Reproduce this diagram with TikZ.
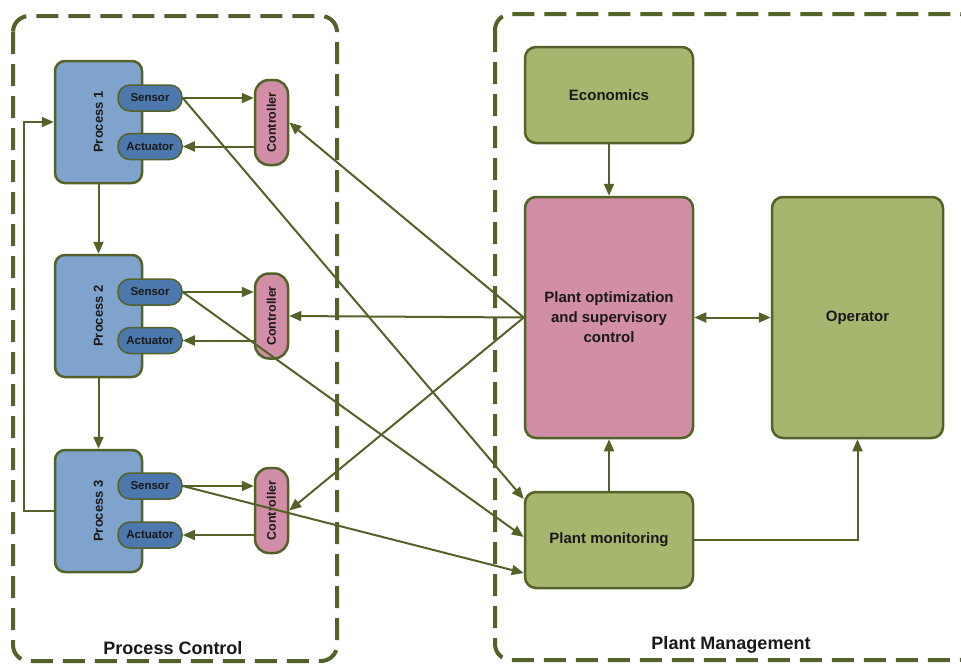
\documentclass[tikz,border=0pt]{standalone}
\usepackage{fontspec}
\setmainfont{Liberation Sans}
\usepackage{tikz}
\usepackage{xcolor}
\usetikzlibrary{arrows.meta}
\definecolor{edge}{RGB}{82,98,40}
\definecolor{procblue}{RGB}{128,163,206}
\definecolor{sensblue}{RGB}{76,120,174}
\definecolor{ctrlpink}{RGB}{210,142,166}
\definecolor{mgmtgreen}{RGB}{167,182,110}
\definecolor{ink}{RGB}{25,25,25}

\begin{document}
\begin{tikzpicture}[x=1pt,y=-1pt,
		proc/.style={draw=edge, line width=2.5pt, fill=procblue, rounded corners=10pt, minimum width=87pt, minimum height=122pt, inner sep=0pt, text=ink, font=\bfseries\fontsize{13}{15}\selectfont},
		sens/.style={draw=edge, line width=1.5pt, fill=sensblue, rounded corners=12pt, minimum width=64pt, minimum height=26pt, inner sep=0pt, text=ink, font=\bfseries\fontsize{11.5}{13}\selectfont},
		ctrl/.style={draw=edge, line width=2.5pt, fill=ctrlpink, rounded corners=14pt, minimum width=33pt, minimum height=85pt, inner sep=0pt, text=ink, font=\bfseries\fontsize{12.5}{14}\selectfont},
		block/.style={draw=edge, line width=2.5pt, fill=mgmtgreen, rounded corners=11pt, minimum width=168pt, inner sep=0pt, align=center, text=ink, font=\bfseries\fontsize{15}{20}\selectfont},
		zone/.style={draw=edge, line width=4pt, dash pattern=on 22pt off 10pt, rounded corners=16pt},
		arr/.style={draw=edge, line width=2pt, -{Triangle[length=12pt,width=10pt]}},
		arrboth/.style={draw=edge, line width=2pt, {Triangle[length=12pt,width=10pt]}-{Triangle[length=12pt,width=10pt]}}]
		\useasboundingbox (0,0) rectangle (961,664);

		% zones
		\draw[zone] (13,16) rectangle (337,661);
		\draw[zone] (495,14) rectangle (975,660);
		\node[font=\bfseries\fontsize{18}{20}\selectfont, text=ink] (pclabel) at (173,648) {Process Control};
		\node[font=\bfseries\fontsize{18}{20}\selectfont, text=ink] (pmlabel) at (731,645) {Plant Management};

		% processes
		\node[proc] (p1) at (98.5,122) {\rotatebox{90}{Process 1}};
		\node[proc] (p2) at (98.5,316) {\rotatebox{90}{Process 2}};
		\node[proc] (p3) at (98.5,511) {\rotatebox{90}{Process 3}};
		\node[sens] (s1) at (150,98) {Sensor};
		\node[sens] (a1) at (150,146.5) {Actuator};
		\node[sens] (s2) at (150,292) {Sensor};
		\node[sens] (a2) at (150,340.5) {Actuator};
		\node[sens] (s3) at (150,486) {Sensor};
		\node[sens] (a3) at (150,535) {Actuator};
		\node[ctrl] (c1) at (271.5,122.5) {\rotatebox{90}{Controller}};
		\node[ctrl] (c2) at (271.5,316) {\rotatebox{90}{Controller}};
		\node[ctrl] (c3) at (271.5,510.5) {\rotatebox{90}{Controller}};

		% management
		\node[block, minimum height=96pt] (eco) at (609,95) {Economics};
		\node[block, minimum height=241pt, fill=ctrlpink] (opt) at (609,317.5) {Plant optimization\\and supervisory\\control};
		\node[block, minimum height=241pt, minimum width=171pt] (op) at (857.5,317.5) {Operator};
		\node[block, minimum height=96pt] (mon) at (609,540) {Plant monitoring};

		% process chain
		\draw[arr] (p1) -- (p2);
		\draw[arr] (p2) -- (p3);
		\draw[arr] (p3.west) -- ++(-30,0) |- (p1.west);

		% local loops
		\foreach \i in {1,2,3}{
			\draw[arr] (s\i.east) -- (c\i.west |- s\i.east);
			\draw[arr] (c\i.west |- a\i.east) -- (a\i.east);
		}

		% supervisory links
		\draw[arr] (opt.west) -- (c1.east);
		\draw[arr] (opt.west) -- (c2.east);
		\draw[arr] (opt.west) -- (c3.east);
		\draw[arr] (s1.east) -- ([yshift=41pt]mon.west);
		\draw[arr] (s2.east) -- ([yshift=3pt]mon.west);
		\draw[arr] (s3.east) -- ([yshift=-33pt]mon.west);

		\draw[arr] (eco) -- (opt);
		\draw[arr] (mon) -- (opt);
		\draw[arrboth] (opt.east) -- (op.west);
		\draw[arr] (mon.east) -| (op.south);
	\end{tikzpicture}
\end{document}
